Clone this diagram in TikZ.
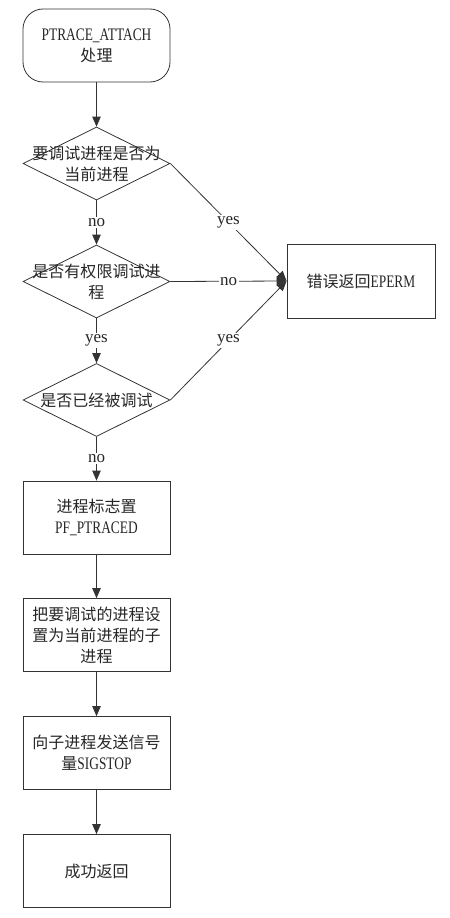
\documentclass[tikz,border=0pt]{standalone}
\usepackage{fontspec}
\setmainfont{Liberation Serif}
\newfontfamily\cjk{Noto Sans CJK SC}
\newfontfamily\narrowf{Liberation Serif}[Scale=1.1,FakeStretch=0.76]
\usetikzlibrary{shapes.geometric,arrows.meta}
\begin{document}
\begin{tikzpicture}[x=1bp,y=-1bp,
  line width=0.8bp, draw=black!80,
  every node/.style={font=\fontsize{16bp}{21bp}\selectfont, text=black!85},
  procbox/.style={draw, rectangle, minimum width=147bp, minimum height=73bp, inner sep=0pt, align=center},
  startbox/.style={procbox, rounded corners=20bp},
  decbox/.style={draw, diamond, minimum width=147bp, minimum height=73bp, inner sep=0pt},
  dectext/.style={align=center, inner sep=0pt},
  lbl/.style={fill=white, inner sep=1.5bp, font=\fontsize{17bp}{20bp}\selectfont},
  arr/.style={-{Triangle[length=10bp,width=8.5bp]}}
]
\useasboundingbox (0,0) rectangle (450,918);

\node[startbox] (start) at (96.5,45.5) {{\narrowf PTRACE\_ATTACH}\\{\cjk 处理}};

\node[decbox] (d1) at (96.5,163.5) {};
\node[dectext] (d1t) at (d1.center) {{\cjk 要调试进程是否为}\\{\cjk 当前进程}};

\node[decbox] (d2) at (96.5,281.5) {};
\node[dectext] (d2t) at (d2.center) {{\cjk 是否有权限调试进}\\{\cjk 程}};

\node[decbox] (d3) at (96.5,400) {};
\node[dectext] (d3t) at (d3.center) {{\cjk 是否已经被调试}};

\node[procbox] (b1) at (96.5,517.5) {{\cjk 进程标志置}\\{\narrowf PF\_PTRACED}};
\node[procbox] (b2) at (96.5,635) {{\cjk 把要调试的进程设}\\{\cjk 置为当前进程的子}\\{\cjk 进程}};
\node[procbox] (b3) at (96.5,753) {{\cjk 向子进程发送信号}\\{\cjk 量}{\narrowf SIGSTOP}};
\node[procbox] (b4) at (96.5,871) {{\cjk 成功返回}};

\node[procbox, minimum width=148bp, minimum height=74bp] (err) at (361,281) {{\cjk 错误返回}{\narrowf EPERM}};

\draw[arr] (start.south) -- (d1.north);
\draw[arr] (d1.south) -- node[lbl] (l1) {no} (d2.north);
\draw[arr] (d2.south) -- node[lbl] (l2) {yes} (d3.north);
\draw[arr] (d3.south) -- node[lbl] (l3) {no} (b1.north);
\draw[arr] (b1.south) -- (b2.north);
\draw[arr] (b2.south) -- (b3.north);
\draw[arr] (b3.south) -- (b4.north);

\draw[arr] (d1.east) -- node[lbl] (l4) {yes} (err.west);
\draw[arr] (d2.east) -- node[lbl] (l5) {no} (err.west);
\draw[arr] (d3.east) -- node[lbl] (l6) {yes} (err.west);
\end{tikzpicture}
\end{document}
